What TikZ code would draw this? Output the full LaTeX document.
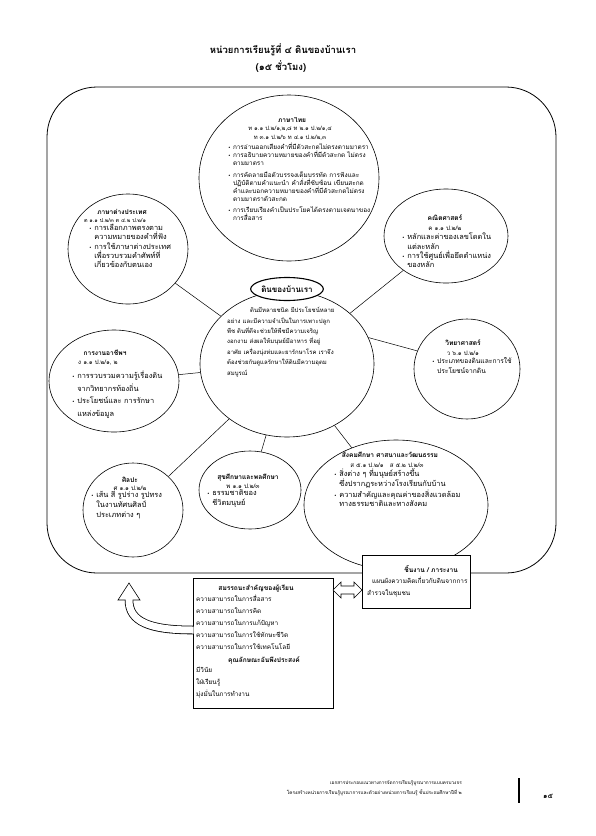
\documentclass[tikz,border=0pt]{standalone}
\usepackage{fontspec}
\setmainfont[Script=Thai]{Loma}
\newfontfamily\djv{DejaVu Sans}
\usetikzlibrary{shapes.geometric}
\newcommand\bu{{\djv\fontsize{4.5}{5}\selectfont •}\ }
\newcommand\hi{\phantom{\bu}}
\tikzset{
  subj/.style={draw, ellipse, line width=0.6pt, inner sep=0pt},
  hd/.style={font=\bfseries\fontsize{6.6}{8}\selectfont, inner sep=0pt},
  cd/.style={font=\fontsize{6.1}{9}\selectfont, inner sep=0pt, align=center},
  blk/.style={font=\fontsize{7.4}{#1}\selectfont, inner sep=0pt, align=left, anchor=north west},
  blks/.style={font=\fontsize{6.4}{#1}\selectfont, inner sep=0pt, align=left, anchor=north west},
  conn/.style={line width=0.5pt},
  boxx/.style={draw, fill=white, line width=0.6pt, inner sep=0pt},
}
\begin{document}
\begin{tikzpicture}[x=1pt,y=-1pt]
\fill[white] (0,0) rectangle (595,836);
\useasboundingbox (0,0) rectangle (595,836);

% title
\node[font=\bfseries\fontsize{9.5}{12}\selectfont, inner sep=0pt] (title1) at (283,50) {หน่วยการเรียนรู้ที่ ๔ ดินของบ้านเรา};
\node[font=\bfseries\fontsize{9.5}{12}\selectfont, inner sep=0pt] (title2) at (281,67) {(๑๕ ชั่วโมง)};

% frame
\draw[line width=0.8pt, rounded corners=50pt] (47,87) rectangle (556,573);

% subject ellipses
\node[subj, minimum width=180pt, minimum height=166pt] (thai) at (289,178) {};
\node[subj, minimum width=120pt, minimum height=110pt] (lang) at (128,249) {};
\node[subj, minimum width=124pt, minimum height=94pt] (math) at (446,236) {};
\node[subj, minimum width=174pt, minimum height=146pt] (center) at (287,364) {};
\node[subj, minimum width=130pt, minimum height=102pt] (work) at (114,381) {};
\node[subj, minimum width=106pt, minimum height=100pt] (sci) at (467,369) {};
\node[subj, minimum width=102pt, minimum height=78pt] (health) at (250,490) {};
\node[subj, minimum width=184pt, minimum height=130pt] (social) at (396,505) {};
\node[subj, minimum width=100pt, minimum height=94pt] (art) at (133,510) {};

% connectors
\draw[conn] (lang) -- (center);
\draw[conn] (work) -- (center);
\draw[conn] (math) -- (center);
\draw[conn] (center.18) -- (sci.160);
\draw[conn] (center) -- (social);
\draw[conn] (center) -- (health);
\draw[conn] (center) -- (art);

% central title ellipse
\node[draw, ellipse, line width=1.1pt, fill=white, minimum width=72pt, minimum height=23pt, inner sep=0pt,
      font=\bfseries\fontsize{8}{10}\selectfont] (soil) at (287,289) {ดินของบ้านเรา};
\node[blks=10.4, font=\fontsize{6}{10.4}\selectfont] (soiltext) at (227,307) {\hspace*{23pt}ดินมีหลายชนิด มีประโยชน์หลาย\\
อย่าง และมีความจำเป็นในการเพาะปลูก\\
พืช ดินที่ดีจะช่วยให้พืชมีความเจริญ\\
งอกงาม ส่งผลให้มนุษย์มีอาหาร ที่อยู่\\
อาศัย เครื่องนุ่งห่มและยารักษาโรค เราจึง\\
ต้องช่วยกันดูแลรักษาให้ดินมีความอุดม\\
สมบูรณ์};

% Thai
\node[hd] (thaih) at (292,120) {ภาษาไทย};
\node[cd, font=\fontsize{5.9}{9}\selectfont] (thaic) at (290,133.5) {ท ๑.๑ ป.๒/๑,๒,๘ ท ๒.๑ ป.๒/๑,๔\\ท ๓.๑ ป.๒/๖ ท ๔.๑ ป.๒/๒,๓};
\node[blks=8] (thait) at (228,143) {\bu การอ่านออกเสียงคำที่มีตัวสะกดไม่ตรงตามมาตรา\\
\bu การอธิบายความหมายของคำที่มีตัวสะกด ไม่ตรง\\
\hi ตามมาตรา\\[3.5pt]
\bu การคัดลายมือตัวบรรจงเต็มบรรทัด การฟังและ\\
\hi ปฏิบัติตามคำแนะนำ คำสั่งที่ซับซ้อน เขียนสะกด\\
\hi คำและบอกความหมายของคำที่มีตัวสะกดไม่ตรง\\
\hi ตามมาตราตัวสะกด\\[3.5pt]
\bu การเรียบเรียงคำเป็นประโยคได้ตรงตามเจตนาของ\\
\hi การสื่อสาร};

% foreign language
\node[hd] (langh) at (122,212) {ภาษาต่างประเทศ};
\node[cd, font=\fontsize{5.5}{9}\selectfont] (langc) at (115,221) {ต ๑.๑ ป.๒/๓ ต ๔.๒ ป.๒/๑};
\node[blk=9.2] (langt) at (89,224) {\bu การเลือกภาพตรงตาม\\
\hi ความหมายของคำที่ฟัง\\[0.5pt]
\bu การใช้ภาษาต่างประเทศ\\
\hi เพื่อรวบรวมคำศัพท์ที่\\
\hi เกี่ยวข้องกับตนเอง};

% math
\node[hd] (mathh) at (445,218) {คณิตศาสตร์};
\node[cd] (mathc) at (445,228) {ค ๑.๑ ป.๒/๒};
\node[blk=9.2] (matht) at (402,233) {\bu หลักและค่าของเลขโดดใน\\
\hi แต่ละหลัก\\[0.5pt]
\bu การใช้ศูนย์เพื่อยึดตำแหน่ง\\
\hi ของหลัก};

% work
\node[hd] (workh) at (105,353) {การงานอาชีพฯ};
\node[cd] (workc) at (98,363) {ง ๑.๑ ป.๒/๑, ๒};
\node[blk=12.5] (workt) at (72,371) {\bu การรวบรวมความรู้เรื่องดิน\\
\hi จากวิทยากรท้องถิ่น\\
\bu ประโยชน์และ การรักษา\\
\hi แหล่งข้อมูล};

% science
\node[hd] (scih) at (463,343) {วิทยาศาสตร์};
\node[cd] (scic) at (463,353) {ว ๖.๑ ป.๒/๑};
\node[blk=9.5, font=\fontsize{6.7}{9.5}\selectfont] (scit) at (432,357.5) {\bu ประเภทของดินและการใช้\\
\hi ประโยชน์จากดิน};

% health
\node[hd] (healthh) at (248,478) {สุขศึกษาและพลศึกษา};
\node[cd] (healthc) at (243,486) {พ ๑.๑ ป.๒/๓};
\node[blk=10] (healtht) at (207,489) {\bu ธรรมชาติของ\\
\hi ชีวิตมนุษย์};

% social
\node[hd] (socialh) at (390,455) {สังคมศึกษา ศาสนาและวัฒนธรรม};
\node[cd] (socialc) at (387,465) {ส ๕.๑ ป.๒/๑ \ \ ส ๕.๒ ป.๒/๓};
\node[blk=9.3] (socialt) at (334,468) {\bu สิ่งต่าง ๆ ที่มนุษย์สร้างขึ้น\\
\hi ซึ่งปรากฏระหว่างโรงเรียนกับบ้าน\\[1.5pt]
\bu ความสำคัญและคุณค่าของสิ่งแวดล้อม\\
\hi ทางธรรมชาติและทางสังคม};

% art
\node[hd] (arth) at (130,480) {ศิลปะ};
\node[cd] (artc) at (130,488) {ศ ๑.๑ ป.๒/๒};
\node[blk=10] (artt) at (91,491) {\bu เส้น สี รูปร่าง รูปทรง\\
\hi ในงานทัศนศิลป์\\
\hi ประเภทต่าง ๆ};

% competency box
\node[boxx, minimum width=140pt, minimum height=130pt] (comp) at (263,643) {};
\node[hd] (comph) at (256,589) {สมรรถนะสำคัญของผู้เรียน};
\node[blks=12] (compt) at (196,595) {ความสามารถในการสื่อสาร\\
ความสามารถในการคิด\\
ความสามารถในการแก้ปัญหา\\
ความสามารถในการใช้ทักษะชีวิต\\
ความสามารถในการใช้เทคโนโลยี};
\node[hd] (attrh) at (264,660) {คุณลักษณะอันพึงประสงค์};
\node[blks=12] (attrt) at (196,667) {มีวินัย\\
ใฝ่เรียนรู้\\
มุ่งมั่นในการทำงาน};

% task box
\node[boxx, minimum width=108pt, minimum height=53pt] (task) at (416,581.5) {};
\node[hd, anchor=east] (taskh) at (458,569) {ชิ้นงาน / ภาระงาน};
\node[blks=11.5] (taskt) at (367,577) {\hspace*{5pt}แผนผังความคิดเกี่ยวกับดินจากการ\\
สำรวจในชุมชน};

% double block arrow between boxes
\draw[fill=white, line width=0.6pt, line join=miter]
  (333,590) -- (341,582) -- (341,586) -- (354,586) -- (354,582) -- (362,590)
  -- (354,598) -- (354,594) -- (341,594) -- (341,598) -- cycle;

% curved block arrow on the left
\draw[line width=8.6pt, line cap=butt] (193,630) .. controls (150,630) and (129,622) .. (129,600);
\draw[fill=white, line width=0.6pt, line join=miter] (118,600) -- (129,583) -- (140,600) -- cycle;
\draw[white, line width=7pt, line cap=butt] (193.6,630) .. controls (150,630) and (129,622) .. (129,600) -- (129,597);

% footer
\node[font=\fontsize{4.7}{10}\selectfont, align=right, anchor=north east, inner sep=0pt] (foot) at (462,780.5)
  {เอกสารประกอบแนวทางการจัดการเรียนรู้บูรณาการแบบครบวงจร\\
   โครงสร้างหน่วยการเรียนรู้บูรณาการและตัวอย่างหน่วยการเรียนรู้ ชั้นประถมศึกษาปีที่ ๒};
\draw[line width=1.2pt] (519,778) -- (519,803);
\node[font=\bfseries\fontsize{7}{9}\selectfont, inner sep=0pt] (page) at (548,796) {๑๕};
\end{tikzpicture}
\end{document}
